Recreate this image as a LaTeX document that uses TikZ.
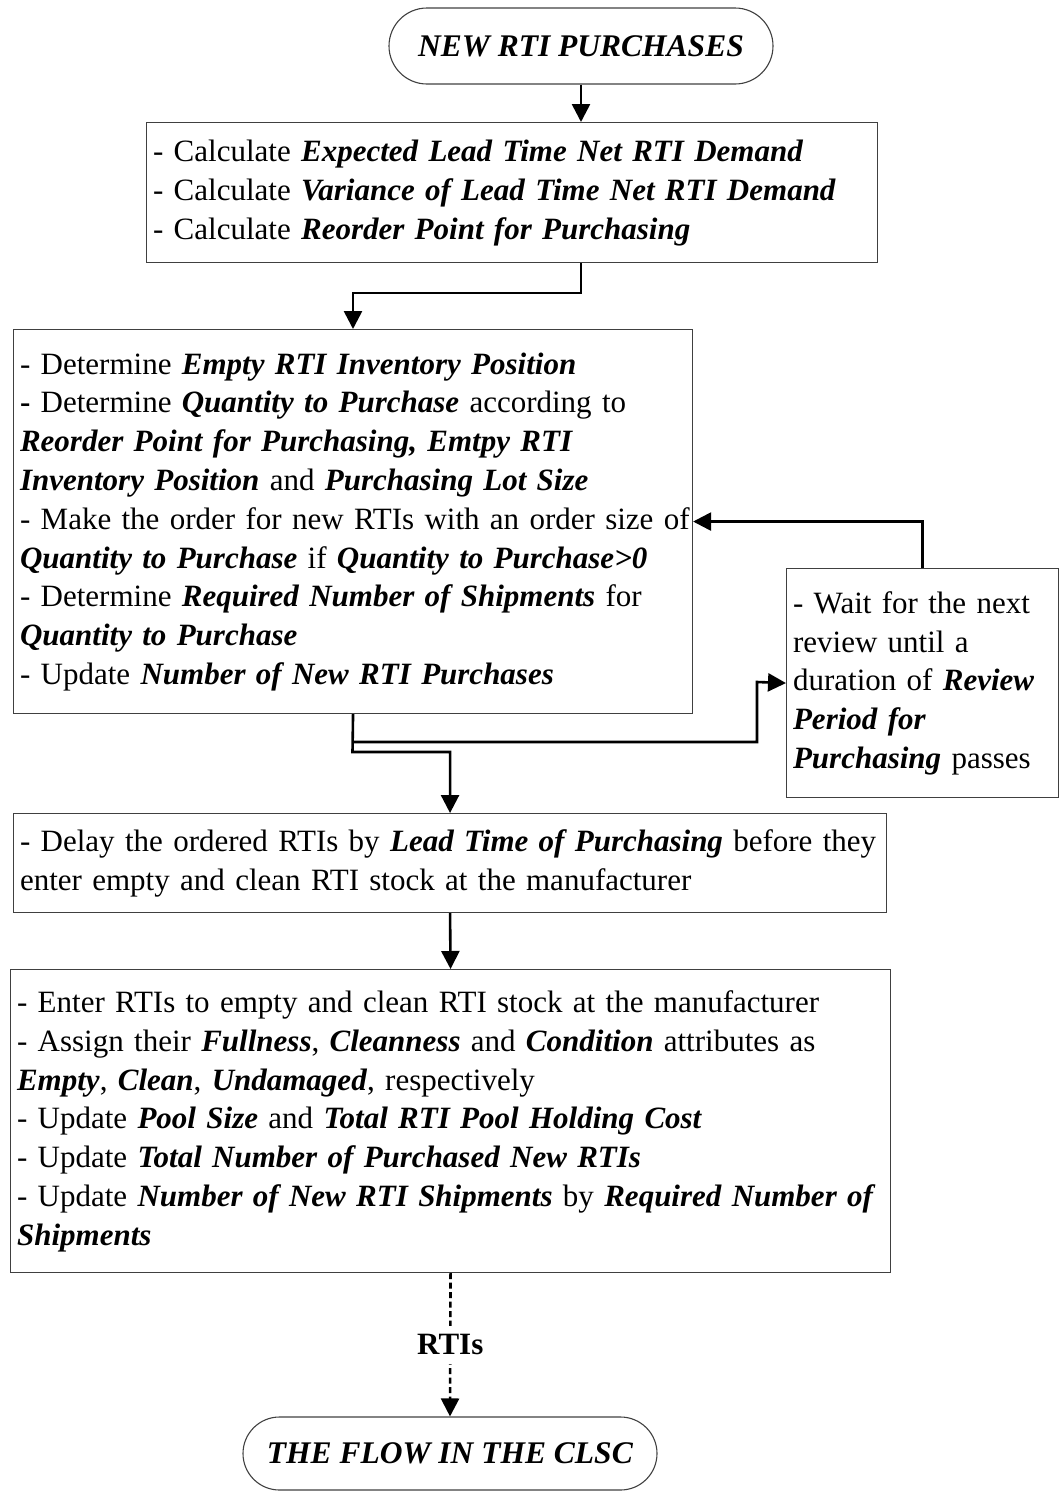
\documentclass[tikz,border=0pt]{standalone}
\usepackage{fontspec}
\setmainfont{Liberation Serif}
\usetikzlibrary{arrows.meta,shapes.misc}
\newcommand{\bfit}[1]{\textbf{\textit{#1}}}
\newcommand{\rows}[1]{\begin{tabular}{@{}l@{}}#1\end{tabular}}

\begin{document}
\begin{tikzpicture}[x=1pt,y=-1pt,
  txt/.style={font=\fontsize{31}{38.8}\selectfont},
  box/.style={txt, draw=black!75, line width=1.1pt, anchor=north west,
    inner xsep=6.5pt, inner ysep=0pt, align=left},
  term/.style={font=\fontsize{31.5}{38.8}\selectfont, draw=black!75,
    line width=1.1pt, rounded rectangle, inner sep=0pt},
  arr/.style={line width=2.6pt, -{Triangle[length=18pt,width=18pt]}},
  flow/.style={arr, dash pattern=on 6pt off 3.5pt},
]
\useasboundingbox (0,0) rectangle (1060,1492);

% terminators
\node[term, minimum width=384pt, minimum height=76pt] (start) at (581,46)
  {\bfit{NEW RTI PURCHASES}};
\node[term, minimum width=414pt, minimum height=73pt] (finish) at (450,1453.5)
  {\bfit{THE FLOW IN THE CLSC}};

% process boxes
\node[box, text width=718pt, minimum height=140pt] (calc) at (146,122) {\rows{%
- Calculate \bfit{Expected Lead Time Net RTI Demand}\\
- Calculate \bfit{Variance of Lead Time Net RTI Demand}\\
- Calculate \bfit{Reorder Point for Purchasing}}};

\node[box, text width=666pt, minimum height=384pt] (order) at (13,329) {\rows{%
- Determine \bfit{Empty RTI Inventory Position}\\
\textbf{-} Determine \bfit{Quantity to Purchase} according to\\
\bfit{Reorder Point for Purchasing, Emtpy RTI}\\
\bfit{Inventory Position} and \bfit{Purchasing Lot Size}\\
- Make the order for new RTIs with an order size of\\
\bfit{Quantity to Purchase} if \bfit{Quantity to Purchase>0}\\
- Determine \bfit{Required Number of Shipments} for\\
\bfit{Quantity to Purchase}\\
- Update \bfit{Number of New RTI Purchases}}};

\node[box, text width=259pt, minimum height=229pt] (wait) at (786,568) {\rows{%
- Wait for the next\\
review until a\\
duration of \bfit{Review}\\
\bfit{Period for}\\
\bfit{Purchasing} passes}};

\node[box, text width=860pt, minimum height=99pt] (delay) at (13,813) {\rows{%
- Delay the ordered RTIs by \bfit{Lead Time of Purchasing} before they\\
enter empty and clean RTI stock at the manufacturer}};

\node[box, text width=867pt, minimum height=303pt] (enter) at (10,969) {\rows{%
- Enter RTIs to empty and clean RTI stock at the manufacturer\\
- Assign their \bfit{Fullness}, \bfit{Cleanness} and \bfit{Condition} attributes as\\
\bfit{Empty}, \bfit{Clean}, \bfit{Undamaged}, respectively\\
- Update \bfit{Pool Size} and \bfit{Total RTI Pool Holding Cost}\\
- Update \bfit{Total Number of Purchased New RTIs}\\
- Update \bfit{Number of New RTI Shipments} by \bfit{Required Number of}\\
\bfit{Shipments}}};

% bend points of the connectors
\coordinate (k1) at (353,293);
\coordinate (k2) at (352.5,752);
\coordinate (k3) at (352.5,742);
\coordinate (k4) at (757,682);

% connectors
\draw[arr] (start.south) -- (start.south |- calc.north);
\draw[arr] (calc.south -| start.south) |- (k1) -- (k1 |- order.north);
\draw[arr] (order.south) -- (k2) -| (delay.north);
\draw[arr] (k3) -| (k4) -- (wait.west);
\draw[arr] (wait.north) |- (order.east);
\draw[arr] (delay.south) -- (enter.north);
\draw[flow] (enter.south) -- node[txt, fill=white, inner xsep=3pt, inner ysep=8.5pt]
  {\textbf{RTIs}} (finish.north);
\end{tikzpicture}
\end{document}
